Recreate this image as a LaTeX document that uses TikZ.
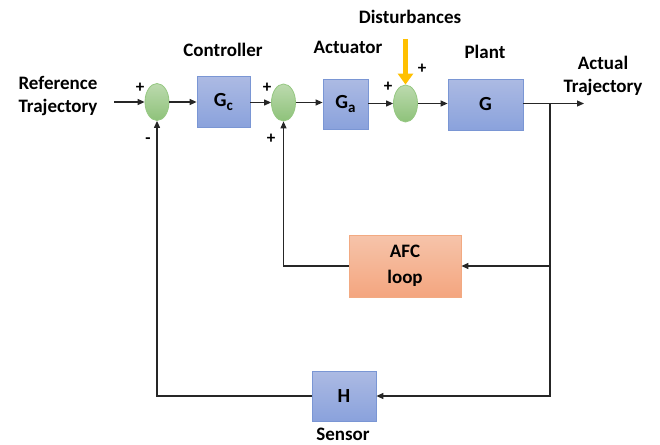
\documentclass[tikz,border=0pt]{standalone}
\usepackage{fontspec}
\setmainfont{Carlito}
\usetikzlibrary{shapes.geometric,arrows.meta}
\definecolor{bluetop}{RGB}{172,186,227}
\definecolor{bluebot}{RGB}{138,162,220}
\definecolor{blueline}{RGB}{122,150,212}
\definecolor{greentop}{RGB}{188,218,174}
\definecolor{greenbot}{RGB}{142,194,122}
\definecolor{greenline}{RGB}{150,200,130}
\definecolor{afctop}{RGB}{246,196,170}
\definecolor{afcbot}{RGB}{244,165,127}
\definecolor{afcline}{RGB}{242,170,130}
\definecolor{distcol}{RGB}{255,192,0}
\newcommand{\subx}[1]{\raisebox{-4pt}{\fontsize{15}{15}\selectfont #1}}
\tikzset{
  blk/.style={draw=blueline, line width=0.8pt, top color=bluetop, bottom color=bluebot, inner sep=0pt, font=\fontsize{20}{22}\selectfont\bfseries},
  afcbox/.style={draw=afcline, line width=0.8pt, top color=afctop, bottom color=afcbot, inner sep=0pt, align=center, font=\fontsize{19}{26}\selectfont\bfseries},
  sumnode/.style={ellipse, draw=greenline, line width=0.8pt, top color=greentop, bottom color=greenbot, inner sep=0pt, minimum width=24pt, minimum height=37pt},
  lbl/.style={font=\fontsize{19}{23}\selectfont\bfseries, align=center, inner sep=0pt},
  sgn/.style={font=\fontsize{17}{17}\selectfont\bfseries, inner sep=0pt},
  conn/.style={line width=1.2pt, draw=black!85},
  arr/.style={conn, -{Triangle[length=7pt,width=6pt]}},
}
\begin{document}
\begin{tikzpicture}[x=1pt,y=-1pt]
\useasboundingbox (0,0) rectangle (660,444);
% blocks
\node[sumnode] (s1) at (157,102) {};
\node[blk, minimum width=53pt, minimum height=51pt] (gc) at (223.5,102) {G\subx{c}};
\node[sumnode] (s2) at (283.5,102.5) {};
\node[blk, minimum width=45pt, minimum height=50pt] (ga) at (345.5,104) {G\subx{a}};
\node[sumnode] (s3) at (405.5,103.5) {};
\node[blk, minimum width=75pt, minimum height=51pt] (g) at (485.5,104.5) {G};
\node[afcbox, minimum width=112pt, minimum height=62pt] (afc) at (405,266) {AFC\\loop};
\node[blk, minimum width=64pt, minimum height=50pt] (h) at (344,396) {H};
% labels
\node[lbl] (lref) at (58,96.5) {Reference\\Trajectory};
\node[lbl] (lctrl) at (223,50) {Controller};
\node[lbl] (lact) at (348,47) {Actuator};
\node[lbl] (ldist) at (410,17) {Disturbances};
\node[lbl] (lplant) at (485,52) {Plant};
\node[lbl] (lout) at (603,75.5) {Actual\\Trajectory};
\node[lbl] (lsens) at (343,434.5) {Sensor};
% signs
\node[sgn] (p1) at (140,88) {+};
\node[sgn] (m1) at (148,141) {-};
\node[sgn] (p2) at (267,88) {+};
\node[sgn] (p3) at (271,139) {+};
\node[sgn] (p4) at (388,87) {+};
\node[sgn] (p5) at (422,69) {+};
% coordinates
\coordinate (in) at (114,102);
\coordinate (out) at (584,103.5);
\coordinate (br) at (550,103.5);
\coordinate (brafc) at (550,266);
\coordinate (brh) at (550,396);
\coordinate (afcl) at (283.5,266);
\coordinate (hl) at (157,396);
\coordinate (dtop) at (405.5,39);
% connectors
\draw[arr] (in) -- (s1.west);
\draw[arr] (s1.east) -- (s1.east -| gc.west);
\draw[arr] (gc.east |- s2.west) -- (s2.west);
\draw[arr] (s2.east) -- (s2.east -| ga.west);
\draw[arr] (ga.east |- s3.west) -- (s3.west);
\draw[arr] (s3.east) -- (s3.east -| g.west);
\draw[arr] (g.east |- out) -- (out);
\draw[arr] (br) -- (brh) -- (h.east);
\draw[arr] (brafc) -- (afc.east);
\draw[arr] (afc.west) -- (afcl) -- (s2.south);
\draw[arr] (h.west) -- (hl) -- (s1.south);
\draw[line width=5pt, draw=distcol, -{Triangle[length=11pt,width=15pt]}] (dtop) -- (s3.north);
\end{tikzpicture}
\end{document}
